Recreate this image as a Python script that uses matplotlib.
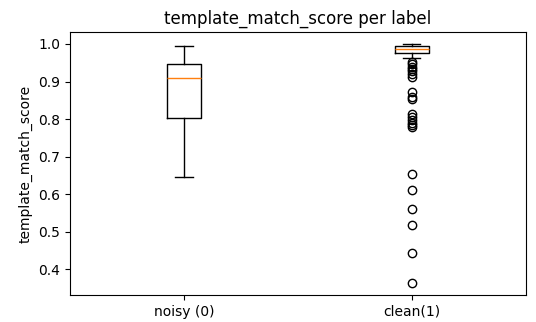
import matplotlib
matplotlib.use("Agg")
import matplotlib.pyplot as plt

# Etiquetas y estadísticas
etiquetas = ["noisy (0)", "clean(1)"]

medianas = [0.909, 0.986]
q1 = [0.803, 0.976]
q3 = [0.948, 0.995]
bigote_inf = [0.646, 0.963]
bigote_sup = [0.994, 1.000]

outliers_noisy = []
outliers_clean = [0.952, 0.946, 0.940, 0.934, 0.928, 0.920, 0.913,
                  0.871, 0.860, 0.853,
                  0.815, 0.806, 0.798, 0.789, 0.784, 0.778,
                  0.655, 0.611, 0.562, 0.518, 0.444, 0.364]
outliers = [outliers_noisy, outliers_clean]

stats = []
for i, nombre in enumerate(etiquetas):
    stats.append({
        'label': nombre,
        'med': medianas[i],
        'q1': q1[i],
        'q3': q3[i],
        'whislo': bigote_inf[i],
        'whishi': bigote_sup[i],
        'fliers': outliers[i],
    })

fig = plt.figure(figsize=(5.36, 3.22), dpi=100)
ax = fig.add_axes([0.1306, 0.0839, 0.8504, 0.8167])
ax.bxp(stats)
ax.set_title('template_match_score per label')
ax.set_ylabel('template_match_score')

fig.savefig('out.png', dpi=100)
